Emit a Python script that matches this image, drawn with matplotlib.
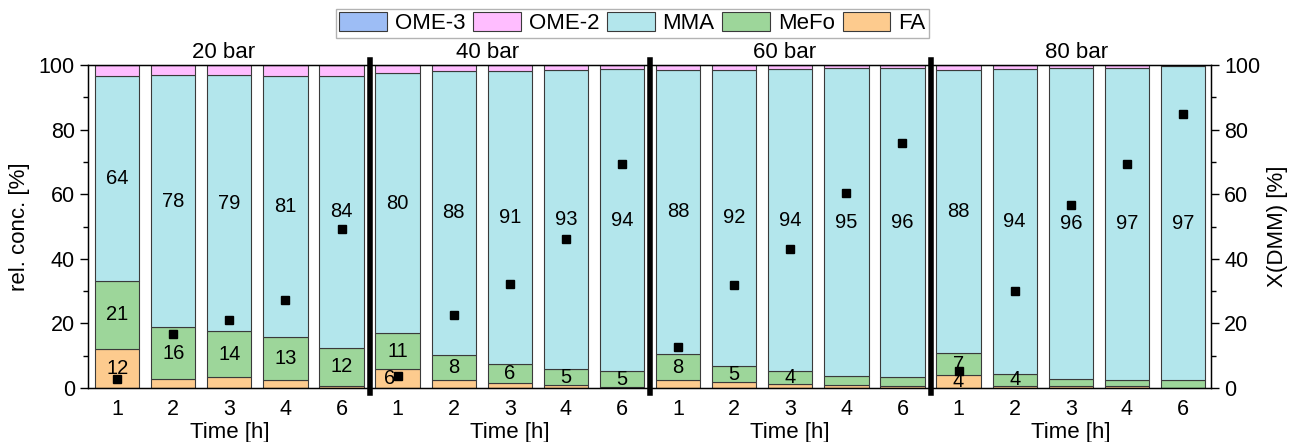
import numpy as np
import matplotlib
matplotlib.use("Agg")
import matplotlib.pyplot as plt
from matplotlib.ticker import MultipleLocator

plt.rcParams["font.family"] = ["Liberation Sans", "DejaVu Sans"]

pressures = ["20 bar", "40 bar", "60 bar", "80 bar"]
times = ["1", "2", "3", "4", "6"]

# relative concentrations [%] per bar, 4 pressures x 5 times
fa = [12.2, 2.7, 3.3, 2.4, 0.7,
      5.8, 2.5, 1.4, 0.9, 0.3,
      2.4, 1.8, 1.1, 0.9, 0.6,
      3.9, 0.7, 0.5, 0.5, 0.1]
mefo = [20.8, 16.1, 14.3, 13.3, 11.6,
        11.3, 7.8, 5.9, 4.9, 4.9,
        8.1, 5.0, 4.1, 2.8, 2.9,
        6.8, 3.7, 2.2, 1.9, 2.4]
mma = [63.6, 78.1, 79.2, 80.9, 84.4,
       80.3, 87.9, 90.9, 92.7, 93.6,
       88.0, 91.8, 93.6, 95.3, 95.7,
       87.8, 94.4, 96.4, 96.8, 97.1]
ome2 = [3.4, 3.1, 3.2, 3.4, 3.3,
        2.6, 1.8, 1.8, 1.5, 1.2,
        1.5, 1.4, 1.2, 1.0, 0.8,
        1.5, 1.2, 0.9, 0.8, 0.4]
ome3 = [0.0] * 20
# conversion of DMM [%]
x_dmm = [2.7, 16.7, 21.1, 27.1, 49.3,
         3.8, 22.6, 32.3, 46.1, 69.5,
         12.7, 31.9, 43.0, 60.3, 76.0,
         5.4, 29.9, 56.7, 69.3, 84.9]

colors = {"FA": "#FDCB8E", "MeFo": "#9DD69A", "MMA": "#B3E6EC",
          "OME-2": "#FFBDFF", "OME-3": "#9DBDF5"}
FS = 15.5

fig = plt.figure(figsize=(12.92, 4.42), dpi=100)
ax = fig.add_axes([0.0681, 0.1222, 0.8692, 0.7307])
x = np.arange(len(fa))
w = 0.79
bottom = np.zeros(len(fa))
handles = {}
for name, vals in [("FA", fa), ("MeFo", mefo), ("MMA", mma), ("OME-2", ome2), ("OME-3", ome3)]:
    vals = np.array(vals)
    bars = ax.bar(x, vals, w, bottom=bottom, color=colors[name],
                  edgecolor="#3a3a3a", linewidth=0.8, zorder=2)
    handles[name] = bars
    if name in ("FA", "MeFo", "MMA"):
        for xi, b, v in zip(x, bottom, vals):
            if round(v) >= 4:
                dx = -0.15 if (name == "FA" and xi == 5) else 0
                ax.text(xi + dx, b + v / 2, f"{v:.0f}", ha="center", va="center",
                        fontsize=14.5, zorder=4)
    bottom += vals

ax.set_xlim(-0.52, 19.5)
ax.set_ylim(0, 100)
ax.yaxis.set_major_locator(MultipleLocator(20))
ax.yaxis.set_minor_locator(MultipleLocator(10))
ax.tick_params(axis="y", which="major", length=6, width=1, labelsize=FS)
ax.tick_params(axis="y", which="minor", length=3.5, width=1)
ax.set_ylabel("rel. conc. [%]", fontsize=16, labelpad=6)
ax.set_xticks(x)
ax.set_xticklabels(times * 4, fontsize=FS)
ax.tick_params(axis="x", length=0, pad=8)
for s in ax.spines.values():
    s.set_linewidth(1)

ax2 = ax.twinx()
ax2.plot(x, x_dmm, "s", color="black", ms=6, zorder=5)
ax2.set_ylim(0, 100)
ax2.yaxis.set_major_locator(MultipleLocator(20))
ax2.yaxis.set_minor_locator(MultipleLocator(10))
ax2.tick_params(axis="y", which="major", length=6, width=1, labelsize=FS)
ax2.tick_params(axis="y", which="minor", length=3.5, width=1)
ax2.set_ylabel("X(DMM) [%]", fontsize=16, labelpad=5)

for sep in [4.5, 9.5, 14.5]:
    ax.plot([sep, sep], [-1.5, 101.5], color="black", lw=4, clip_on=False, zorder=6)

for xp, lab in zip([1.9, 6.6, 11.9, 17.1], pressures):
    ax.text(xp, 102.2, lab, ha="center", va="baseline", fontsize=16)
for g in range(4):
    ax.text(g * 5 + 2, -10.5, "Time [h]", ha="center", va="top", fontsize=16)

order = ["OME-3", "OME-2", "MMA", "MeFo", "FA"]
fig.legend([handles[k] for k in order], order, loc="upper center",
           bbox_to_anchor=(0.4895, 0.98), ncol=5, fontsize=16, frameon=True,
           fancybox=False, edgecolor="#a0a0a0", handlelength=2.15, handleheight=0.95,
           columnspacing=0.35, handletextpad=0.35, borderpad=0.15, borderaxespad=0)

fig.savefig("out.png", dpi=100)
